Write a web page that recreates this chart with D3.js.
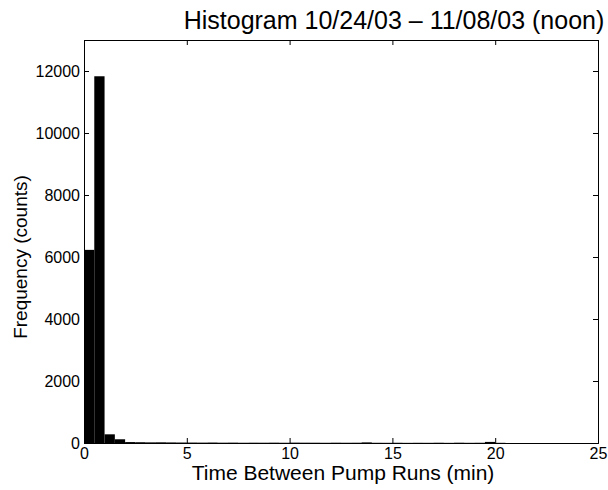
<!DOCTYPE html>
<html><head><meta charset="utf-8">
<script src="https://cdn.jsdelivr.net/npm/d3@7"></script>
<style>body{margin:0;background:#fff}svg{display:block}text{font-family:"Liberation Sans",Arial,sans-serif;fill:#000}</style>
</head><body><svg id="c" width="608" height="490"></svg>
<script>
const title = "Histogram 10/24/03 \u2013 11/08/03 (noon)";
const xLabel = "Time Between Pump Runs (min)";
const yLabel = "Frequency (counts)";
const binWidth = 0.5;
const binStarts = d3.range(0, 25, 0.5);
const counts = [6230, 11830, 280, 120, 30, 25, 20, 22, 18, 15, 14, 12, 15, 10, 12, 8, 10, 9, 11, 8,
  12, 10, 9, 7, 10, 8, 9, 20, 7, 6, 8, 5, 7, 6, 9, 5, 10, 6, 8, 35, 6, 0, 0, 0, 0, 0, 0, 0, 0, 0];
const xTicks = [0, 5, 10, 15, 20, 25];
const yTicks = [0, 2000, 4000, 6000, 8000, 10000, 12000];

const svg = d3.select("#c");
const m = {l: 84, r: 10, t: 40, b: 47};
const W = 608, H = 490;
const x = d3.scaleLinear().domain([0, 25]).range([m.l, W - m.r]);
const y = d3.scaleLinear().domain([0, 13000]).range([H - m.b, m.t]);

svg.append("g").selectAll("rect").data(binStarts).join("rect")
  .attr("x", d => x(d)).attr("width", d => x(d + binWidth) - x(d))
  .attr("y", (d, i) => y(counts[i])).attr("height", (d, i) => y(0) - y(counts[i]))
  .attr("fill", "#000");

const tl = 5;
const ax = svg.append("g").attr("transform", `translate(0,${y(0)})`)
  .call(d3.axisBottom(x).tickValues(xTicks).tickSize(-tl).tickPadding(5).tickFormat(d3.format("d")));
const axT = svg.append("g").attr("transform", `translate(0,${y(13000)})`)
  .call(d3.axisTop(x).tickValues(xTicks).tickSize(-tl).tickFormat(""));
const ay = svg.append("g").attr("transform", `translate(${x(0)},0)`)
  .call(d3.axisLeft(y).tickValues(yTicks).tickSize(-tl).tickPadding(4).tickFormat(d3.format("d")));
const ayR = svg.append("g").attr("transform", `translate(${x(25)},0)`)
  .call(d3.axisRight(y).tickValues(yTicks).tickSize(-tl).tickFormat(""));
[ax, axT, ay, ayR].forEach(g => {
  g.selectAll("path").attr("stroke", "#000").attr("stroke-width", 1);
  g.selectAll("line").attr("stroke", "#000");
  g.selectAll("text").style("font-family", '"Liberation Sans",Arial,sans-serif').attr("font-size", 16).attr("fill", "#000");
});

svg.append("text").attr("x", 394).attr("y", 29).attr("text-anchor", "middle")
  .attr("font-size", 25).text(title);
svg.append("text").attr("x", 343).attr("y", 480).attr("text-anchor", "middle")
  .attr("font-size", 21).text(xLabel);
svg.append("text").attr("transform", "translate(27,257) rotate(-90)").attr("text-anchor", "middle")
  .attr("font-size", 19).text(yLabel);
</script></body></html>
